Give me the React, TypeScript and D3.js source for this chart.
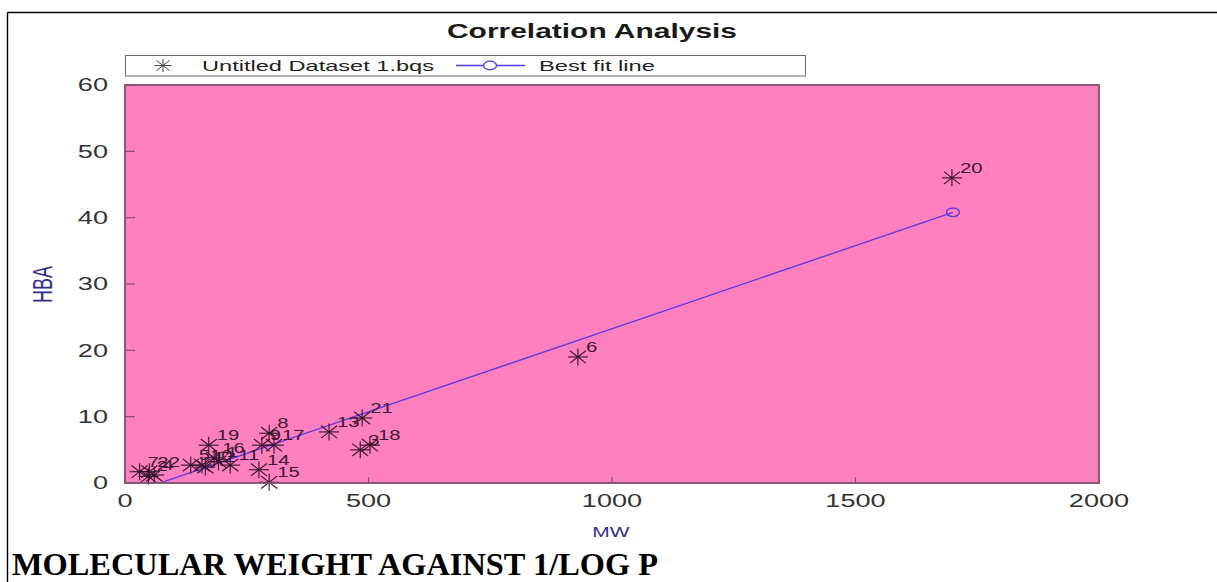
import React from "react";
import * as d3 from "d3";

const pointLabels = ["7", "2", "22", "4", "5", "12", "10", "19", "16", "1", "11", "14", "15", "9", "8", "17", "13", "3", "21", "18", "6", "20"];
const mwValues = [30, 48, 50, 60, 135, 165, 158, 172, 183, 192, 216, 275, 296, 281, 296, 306, 419, 483, 487, 503, 930, 1698];
const hbaValues = [1.7, 1.0, 1.7, 1.2, 2.7, 2.4, 2.7, 5.7, 3.8, 3.2, 2.7, 2.0, 0.1, 5.7, 7.5, 5.7, 7.7, 5.0, 9.8, 5.7, 19, 46];

const fitX = [30, 1700];
const fitY = [-1.05, 40.8];

const xTicks = [0, 500, 1000, 1500, 2000];
const yTicks = [0, 10, 20, 30, 40, 50, 60];

const W = 1217;
const H = 582;
const L = 125, R = 1099, T = 85, B = 483;
const SX = 1.5;
const SANS = "Liberation Sans, Arial, sans-serif";

function SText({ x, y, sx = SX, anchor = "start", size, fill, weight, children }: any) {
  return (
    <text
      transform={`translate(${x},${y}) scale(${sx},1)`}
      textAnchor={anchor}
      fontFamily={SANS}
      fontSize={size}
      fontWeight={weight || "normal"}
      fill={fill}
    >
      {children}
    </text>
  );
}

function Star({ x, y, color, h = 10, v = 8.5, dx = 8, dy = 6.2, w = 1.1 }: any) {
  return (
    <g stroke={color} strokeWidth={w}>
      <line x1={x - h} y1={y} x2={x + h} y2={y} />
      <line x1={x} y1={y - v} x2={x} y2={y + v} />
      <line x1={x - dx} y1={y - dy} x2={x + dx} y2={y + dy} />
      <line x1={x - dx} y1={y + dy} x2={x + dx} y2={y - dy} />
    </g>
  );
}

export default function App() {
  const x = d3.scaleLinear().domain([0, 2000]).range([L, R]);
  const y = d3.scaleLinear().domain([0, 60]).range([B, T]);
  const starColor = "#32122a";
  const labelColor = "#3a1832";
  const lineColor = "#5a36e2";
  const axisColor = "#7c5068";
  const fitLine = d3.line<number>().x((_, i) => x(fitX[i])).y((_, i) => y(fitY[i]))(fitX) || "";

  return (
    <svg width={W} height={H} style={{ position: "absolute", left: 0, top: 0, display: "block", background: "#fff" }}>
      <defs>
        <clipPath id="plotclip">
          <rect x={L} y={T} width={R - L} height={B - T} />
        </clipPath>
      </defs>
      {/* frame */}
      <line x1={7.5} y1={12.5} x2={W} y2={12.5} stroke="#000" strokeWidth={1.4} />
      <line x1={7.5} y1={12.5} x2={7.5} y2={H} stroke="#000" strokeWidth={1.4} />

      {/* title */}
      <text x={592} y={38} textAnchor="middle" fontFamily={SANS} fontWeight="bold" fontSize={19.5} fill="#1a1a1a"
        textLength={290} lengthAdjust="spacingAndGlyphs">
        Correlation Analysis
      </text>

      {/* legend */}
      <rect x={125.5} y={55.5} width={680} height={20.5} fill="#fff" stroke="#6a6a6a" strokeWidth={1} />
      <Star x={163} y={65.5} color="#444" h={8.5} v={6.5} dx={6.5} dy={5} w={1} />
      <text x={202} y={70.5} fontFamily={SANS} fontSize={14.5} fill="#222" textLength={232} lengthAdjust="spacingAndGlyphs">
        Untitled Dataset 1.bqs
      </text>
      <line x1={456} y1={65.5} x2={525} y2={65.5} stroke={lineColor} strokeWidth={1.3} />
      <ellipse cx={490} cy={65.5} rx={6.5} ry={4.3} fill="#fff" stroke={lineColor} strokeWidth={1.3} />
      <text x={539} y={70.5} fontFamily={SANS} fontSize={14.5} fill="#222" textLength={116} lengthAdjust="spacingAndGlyphs">
        Best fit line
      </text>

      {/* plot area */}
      <rect x={L} y={T} width={R - L} height={B - T} fill="#ff80bf" />

      {/* ticks */}
      {yTicks.map((t) => (
        <line key={"yt" + t} x1={L} x2={L + 10} y1={y(t)} y2={y(t)} stroke={axisColor} strokeWidth={1.2} />
      ))}
      {xTicks.map((t) => (
        <line key={"xt" + t} x1={x(t)} x2={x(t)} y1={B} y2={B - 6} stroke={axisColor} strokeWidth={1.2} />
      ))}

      {/* best fit line */}
      <g clipPath="url(#plotclip)">
        <path d={fitLine} fill="none" stroke={lineColor} strokeWidth={1.3} />
        {fitX.map((v, i) => (
          <ellipse key={"fc" + i} cx={x(v)} cy={y(fitY[i])} rx={6.5} ry={4.3} fill="none" stroke={lineColor} strokeWidth={1.3} />
        ))}
      </g>

      {/* points */}
      {mwValues.map((v, i) => (
        <Star key={"p" + i} x={x(v)} y={y(hbaValues[i])} color={starColor} />
      ))}
      {mwValues.map((v, i) => (
        <SText key={"l" + i} x={x(v) + 8} y={y(hbaValues[i]) - 5} sx={1.45} size={14} fill={labelColor}>
          {pointLabels[i]}
        </SText>
      ))}

      {/* plot border */}
      <rect x={L} y={T} width={R - L} height={B - T} fill="none" stroke={axisColor} strokeWidth={1.8} />

      {/* tick labels */}
      {yTicks.map((t) => (
        <SText key={"yl" + t} x={108} y={y(t) + 6.3} anchor="end" sx={1.55} size={17.5} fill="#333">
          {t}
        </SText>
      ))}
      {xTicks.map((t) => (
        <SText key={"xl" + t} x={x(t)} y={506.5} anchor="middle" sx={1.55} size={17.5} fill="#333">
          {t}
        </SText>
      ))}

      {/* axis titles */}
      <SText x={611} y={536.5} anchor="middle" sx={1.4} size={15} fill="#30308c">MW</SText>
      <text transform={`translate(52,284.5) scale(1.5,1) rotate(-90)`} textAnchor="middle" fontFamily={SANS} fontSize={18} fill="#30308c">
        HBA
      </text>

      {/* caption */}
      <text x={12} y={575} fontFamily="Liberation Serif, Times New Roman, serif" fontWeight="bold" fontSize={31} fill="#000"
        textLength={646} lengthAdjust="spacingAndGlyphs">
        MOLECULAR WEIGHT AGAINST 1/LOG P
      </text>
    </svg>
  );
}
